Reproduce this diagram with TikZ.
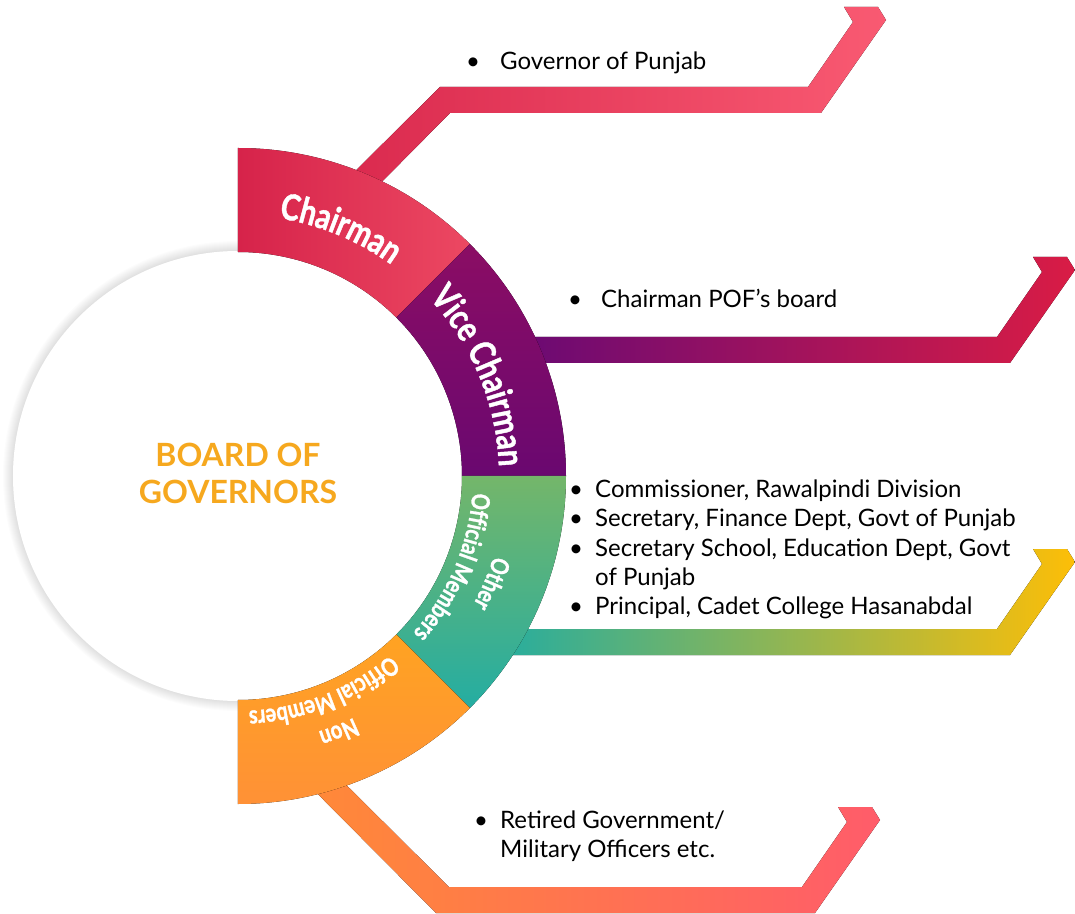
\documentclass[tikz,border=0pt]{standalone}
\usepackage{fontspec}
\setmainfont{Lato}
\newfontfamily\labelfont{Lato}[FakeStretch=0.8, BoldFeatures={FakeBold=1.2}]
\usetikzlibrary{decorations.text}

\definecolor{chairA}{HTML}{D6234A}
\definecolor{chairB}{HTML}{EC4862}
\definecolor{viceA}{HTML}{6A0870}
\definecolor{viceB}{HTML}{8B0D64}
\definecolor{otherA}{HTML}{74B66A}
\definecolor{otherB}{HTML}{24ADA2}
\definecolor{nonA}{HTML}{FFA322}
\definecolor{nonB}{HTML}{FF9136}
\definecolor{govA}{HTML}{D9284D}
\definecolor{govB}{HTML}{F95A72}
\definecolor{pofA}{HTML}{6C0A73}
\definecolor{pofB}{HTML}{D91C45}
\definecolor{offA}{HTML}{26AD9F}
\definecolor{offM}{HTML}{B0B83C}
\definecolor{offB}{HTML}{FDBE07}
\definecolor{retA}{HTML}{FF8B36}
\definecolor{retB}{HTML}{FF5C6A}
\definecolor{boardtext}{HTML}{F6A81E}

\newcommand{\itm}[1][26bp]{\makebox[#1][l]{\textbullet}}
\newcommand{\labfont}[1]{\labelfont\bfseries\fontsize{#1}{#1}\selectfont\color{white}}
% text along an arc, centred on angle #1
\newcommand{\arclabel}[4]{%
  \path[decorate, decoration={text along path, text align=center,
    text={|\labfont{#3}|#4}}]
    ({#1+40}:#2) arc[start angle={#1+40}, end angle={#1-40}, radius=#2];}

\begin{document}
\begin{tikzpicture}[x=1bp, y=1bp,
  itemtext/.style={anchor=base west, inner sep=0pt, font=\fontsize{24bp}{29bp}\selectfont}]

  \def\rin{224}
  \def\rout{328}

  \useasboundingbox (-238,-438) rectangle (837,476);

  % soft shadow and white disc
  \foreach \s in {1,...,10}
    \fill[black, opacity=0.012] (0,0) circle ({225+\s});
  \fill[white] (0,0) circle (225);

  % bands
  \fill[left color=govA, right color=govB] (88,276) -- (202,389) -- (570,389) -- (615,454)
    -- (606,469) -- (640,469) -- (648,456) -- (583,363) -- (212,363) -- (114,264) -- cycle;
  \fill[left color=pofA, right color=pofB] (290,139) -- (759,139) -- (804,204) -- (795,219)
    -- (829,219) -- (837,206) -- (772,113) -- (290,113) -- cycle;
  \fill[left color=offA, middle color=offM, right color=offB] (260,-153) -- (759,-153) -- (804,-88) -- (795,-73)
    -- (829,-73) -- (837,-86) -- (772,-179) -- (260,-179) -- cycle;
  \fill[left color=retA, right color=retB] (49,-287) -- (198,-437) -- (577,-437) -- (642,-344)
    -- (634,-331) -- (600,-331) -- (609,-346) -- (564,-411) -- (211,-411) -- (78,-279) -- cycle;

  % ring
  \fill[left color=chairA, right color=chairB] (90:\rout) arc[start angle=90, end angle=45, radius=\rout]
    -- (45:\rin) arc[start angle=45, end angle=90, radius=\rin] -- cycle;
  \fill[top color=viceB, bottom color=viceA] (45:\rout) arc[start angle=45, end angle=0, radius=\rout]
    -- (0:\rin) arc[start angle=0, end angle=45, radius=\rin] -- cycle;
  \fill[top color=otherA, bottom color=otherB] (0:\rout) arc[start angle=0, end angle=-45, radius=\rout]
    -- (-45:\rin) arc[start angle=-45, end angle=0, radius=\rin] -- cycle;
  \fill[top color=nonA, bottom color=nonB] (-45:\rout) arc[start angle=-45, end angle=-90, radius=\rout]
    -- (-90:\rin) arc[start angle=-90, end angle=-45, radius=\rin] -- cycle;

  \arclabel{67.5}{261}{36bp}{Chairman}
  \arclabel{22.5}{261}{36bp}{Vice Chairman}
  \arclabel{-23}{268}{25bp}{Other}
  \arclabel{-23}{235}{25bp}{Official Members}
  \arclabel{-68.5}{268}{25bp}{Non}
  \arclabel{-68.5}{235}{25bp}{Official Members}

  \node[font=\bfseries\fontsize{32bp}{37bp}\selectfont, text=boardtext, align=center] (board) at (0,3)
    {BOARD OF\\GOVERNORS};

  \node[itemtext] (gov) at (228,406) {\itm[34bp]Governor of Punjab};
  \node[itemtext] (pof) at (330,168) {\itm[33bp]Chairman POF’s board};
  \node[itemtext] (official) at (331,-22) {\begin{tabular}[t]{@{}l@{}}
    \itm Commissioner, Rawalpindi Division\\
    \itm Secretary, Finance Dept, Govt of Punjab\\
    \itm Secretary School, Education Dept, Govt\\
    \hspace*{26bp}of Punjab\\
    \itm Principal, Cadet College Hasanabdal
  \end{tabular}};
  \node[itemtext] (retired) at (236,-352) {\begin{tabular}[t]{@{}l@{}}
    \itm Retired Government/\\
    \hspace*{26bp}Military Officers etc.
  \end{tabular}};
\end{tikzpicture}
\end{document}
